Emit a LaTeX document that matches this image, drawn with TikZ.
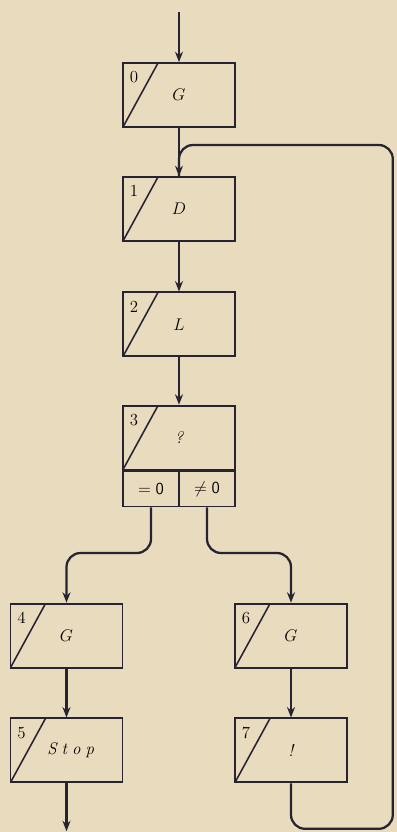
\documentclass[tikz,border=0pt]{standalone}
\usetikzlibrary{arrows.meta,positioning,calc}
\definecolor{paper}{RGB}{233,219,190}
\definecolor{ink}{RGB}{38,36,50}
\tikzset{
  opbox/.style={rectangle, draw=ink, line width=1.3pt, minimum width=2.8cm, minimum height=1.6cm, inner sep=1pt, font=\large\itshape,
    path picture={\draw[ink, line width=1.1pt] (path picture bounding box.south west) -- ([xshift=0.875cm]path picture bounding box.north west);}},
  num/.style={anchor=center, inner sep=0pt, font=\large\upshape, xshift=0.3cm, yshift=-0.38cm},
  cond/.style={rectangle, draw=ink, line width=1.3pt, minimum width=1.4cm, minimum height=0.875cm, inner sep=1pt, font=\large},
  arrow/.style={-{Stealth[length=2.6mm,width=2mm]}, ink, line width=1.6pt},
  link/.style={ink, line width=1.6pt, rounded corners=10pt}
}

\begin{document}
\begin{tikzpicture}
  \fill[paper] (0,0) rectangle (9.925,-20.8);
  \useasboundingbox (0,0) rectangle (9.925,-20.8);
  % main column
  \node[opbox, label={[num]north west:0}] (b0) at (4.475,-2.375) {$G$};
  \node[opbox, label={[num]north west:1}] (b1) at (4.475,-5.225) {$D$};
  \node[opbox, label={[num]north west:2}] (b2) at (4.475,-8.11) {$L$};
  \node[opbox, label={[num]north west:3}] (b3) at (4.475,-10.94) {?};
  \node[cond, anchor=north west] (b3a) at (b3.south west) {$=\mathsf{0}$};
  \node[cond, anchor=north east] (b3b) at (b3.south east) {$\neq\mathsf{0}$};
  % branches
  \node[opbox, label={[num]north west:4}] (b4) at (1.6625,-15.89) {$G$};
  \node[opbox, label={[num]north west:5}] (b5) at (1.6625,-18.76) {\hspace{0.5em}S\hspace{0.3em}t\hspace{0.3em}o\hspace{0.3em}p};
  \node[opbox, label={[num]north west:6}] (b6) at (7.275,-15.89) {$G$};
  \node[opbox, label={[num]north west:7}] (b7) at (7.275,-18.76) {!};
  \coordinate (in) at (4.475,-0.3);
  \coordinate (out) at (1.6625,-20.78);
  \coordinate (split) at (0,-13.825);
  \coordinate (back) at (9.82,-20.72);
  \coordinate (top) at (9.82,-3.625);
  \draw[arrow] (in) -- (b0);
  \draw[arrow] (b0) -- (b1);
  \draw[arrow] (b1) -- (b2);
  \draw[arrow] (b2) -- (b3);
  \draw[arrow, rounded corners=10pt] (b3a.south) -- (b3a.south |- split) -- (b4.north |- split) -- (b4.north);
  \draw[arrow, rounded corners=10pt] (b3b.south) -- (b3b.south |- split) -- (b6.north |- split) -- (b6.north);
  \draw[arrow] (b4) -- (b5);
  \draw[arrow] (b6) -- (b7);
  \draw[arrow] (b5) -- (out);
  % loop back
  \draw[link] (b7.south) -- (b7.south |- back) -- (back) -- (top) -- (b0.south |- top) -- (b1.north);
\end{tikzpicture}
\end{document}
